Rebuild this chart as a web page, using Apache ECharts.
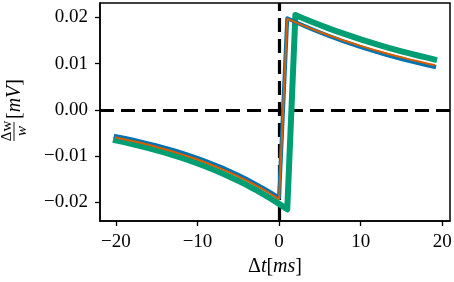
<!DOCTYPE html>
<html>
<head>
<meta charset="utf-8">
<script src="https://cdn.jsdelivr.net/npm/echarts@6/dist/echarts.min.js"></script>
<style>
  html, body { margin: 0; padding: 0; background: #fff; }
  #main { width: 454px; height: 282px; }
</style>
</head>
<body>
<div id="main"></div>
<script>
// Δt 取值 (ms)
var dt = [-20,-19,-18,-17,-16,-15,-14,-13,-12,-11,-10,-9,-8,-7,-6,-5,-4,-3,-2,-1,
          0,1,2,3,4,5,6,7,8,9,10,11,12,13,14,15,16,17,18,19];

// 三条曲线 Δw/w
var blueVals = [-0.00570,-0.00605,-0.00643,-0.00682,-0.00725,-0.00770,-0.00818,-0.00868,-0.00922,-0.00980,
                -0.01040,-0.01105,-0.01174,-0.01246,-0.01324,-0.01406,-0.01493,-0.01586,-0.01684,-0.01789,
                -0.01900,0.01980,0.01899,0.01820,0.01746,0.01674,0.01605,0.01539,0.01476,0.01415,
                0.01357,0.01301,0.01248,0.01196,0.01147,0.01100,0.01055,0.01011,0.00970,0.00930];
var orangeVals = [-0.00599,-0.00635,-0.00674,-0.00714,-0.00757,-0.00803,-0.00851,-0.00902,-0.00957,-0.01014,
                  -0.01075,-0.01140,-0.01209,-0.01282,-0.01359,-0.01441,-0.01527,-0.01619,-0.01717,-0.01820,
                  -0.01930,0.01970,0.01894,0.01821,0.01751,0.01683,0.01618,0.01556,0.01495,0.01438,
                  0.01382,0.01329,0.01278,0.01228,0.01181,0.01135,0.01091,0.01049,0.01009,0.00970];
var greenVals = [-0.00661,-0.00699,-0.00739,-0.00782,-0.00827,-0.00875,-0.00926,-0.00979,-0.01036,-0.01096,
                 -0.01159,-0.01226,-0.01297,-0.01372,-0.01451,-0.01535,-0.01623,-0.01717,-0.01817,-0.01921,
                 -0.02033,-0.02150,0.02050,0.01975,0.01903,0.01834,0.01767,0.01703,0.01641,0.01581,
                 0.01524,0.01468,0.01415,0.01363,0.01314,0.01266,0.01220,0.01175,0.01133,0.01091];

var xTicks = [-20, -10, 0, 10, 20];
var yTicks = [-0.02, -0.01, 0, 0.01, 0.02];

function pairs(vals) {
    return dt.map(function (t, i) { return [t, vals[i]]; });
}

var serifFont = '"Liberation Serif", "DejaVu Serif", serif';

var myChart = echarts.init(document.getElementById('main'));
myChart.setOption({
    animation: false,
    grid: {
        left: 100, right: 4, top: 3, bottom: 61,
        show: true,
        borderColor: '#000',
        borderWidth: 1.5,
        outerBoundsMode: 'none'
    },
    xAxis: {
        type: 'value',
        min: -21.95,
        max: 20.95,
        splitLine: { show: false },
        axisLine: { show: true, onZero: false, lineStyle: { color: '#000', width: 1.5 } },
        axisTick: { show: true, customValues: xTicks, length: 5, lineStyle: { color: '#000', width: 1.3 } },
        axisLabel: {
            customValues: xTicks,
            color: '#000',
            fontFamily: serifFont,
            fontSize: 19,
            margin: 12,
            formatter: function (v) { return String(v).replace('-', '\u2212'); }
        },
        name: '{n|Δ}{i|t}{n|[}{i|ms}{n|]}',
        nameLocation: 'middle',
        nameGap: 31,
        nameTextStyle: {
            rich: {
                n: { fontFamily: serifFont, fontSize: 20, color: '#000' },
                i: { fontFamily: serifFont, fontSize: 20, fontStyle: 'italic', color: '#000' }
            }
        }
    },
    yAxis: {
        type: 'value',
        min: -0.02404,
        max: 0.0231,
        splitLine: { show: false },
        axisLine: { show: true, onZero: false, lineStyle: { color: '#000', width: 1.5 } },
        axisTick: { show: true, customValues: yTicks, length: 5, lineStyle: { color: '#000', width: 1.3 } },
        axisLabel: {
            customValues: yTicks,
            color: '#000',
            fontFamily: serifFont,
            fontSize: 19,
            margin: 12,
            formatter: function (v) { return v.toFixed(2).replace('-', '\u2212'); }
        }
    },
    graphic: [{
        type: 'group',
        x: 15,
        y: 109,
        rotation: Math.PI / 2,
        children: [
            { type: 'text', x: -22, y: -8, style: { text: 'Δw', font: '15px ' + serifFont, fill: '#000', align: 'center', verticalAlign: 'middle' } },
            { type: 'line', shape: { x1: -32, y1: -1, x2: -13, y2: -1 }, style: { stroke: '#000', lineWidth: 0.9 } },
            { type: 'text', x: -22, y: 7, style: { text: 'w', font: 'italic 15px ' + serifFont, fill: '#000', align: 'center', verticalAlign: 'middle' } },
            {
                type: 'text', x: 10, y: 0,
                style: {
                    text: '{n|[}{i|mV}{n|]}',
                    align: 'center', verticalAlign: 'middle',
                    rich: {
                        n: { fontFamily: serifFont, fontSize: 20, fill: '#000' },
                        i: { fontFamily: serifFont, fontSize: 20, fontStyle: 'italic', fill: '#000' }
                    }
                }
            }
        ]
    }],
    series: [{
        name: 'green',
        type: 'line',
        data: pairs(greenVals),
        showSymbol: false,
        z: 3,
        lineStyle: { color: '#029E73', width: 6, join: 'round', cap: 'square' },
        markLine: {
            silent: true,
            symbol: 'none',
            z: 1,
            label: { show: false },
            lineStyle: { color: '#000', width: 3.2, type: [14, 7] },
            data: [{ xAxis: 0 }, { yAxis: 0 }]
        }
    }, {
        name: 'blue',
        type: 'line',
        data: pairs(blueVals),
        showSymbol: false,
        z: 4,
        lineStyle: { color: '#0173B2', width: 4, join: 'round', cap: 'square' }
    }, {
        name: 'orange',
        type: 'line',
        data: pairs(orangeVals),
        showSymbol: false,
        z: 5,
        lineStyle: { color: '#D55E00', width: 2, join: 'round', cap: 'square' }
    }]
});
</script>
</body>
</html>
